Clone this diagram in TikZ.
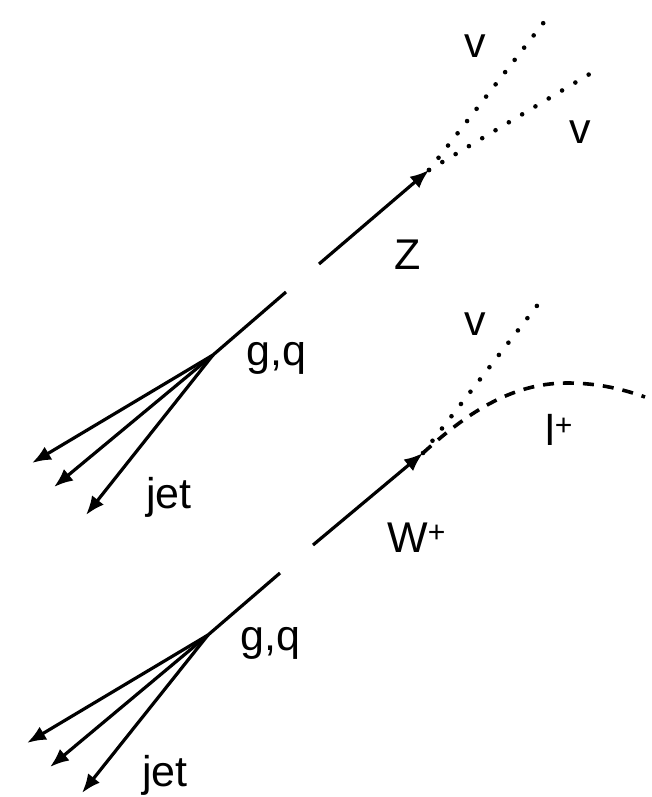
\documentclass[tikz,border=0pt]{standalone}
\usepackage{fontspec}
\setmainfont{Liberation Sans}
\usetikzlibrary{arrows.meta}
\begin{document}
\begin{tikzpicture}[x=1pt,y=-1pt,
  lbl/.style={anchor=base west,inner sep=0pt,font=\fontsize{43}{48}\selectfont},
  prop/.style={line width=3.2pt},
  arr/.style={prop,-{Latex[length=19pt,width=15pt]}},
  nuline/.style={line width=4.6pt,line cap=round,dash pattern=on 0pt off 15.5pt},
  lepline/.style={line width=3.6pt,dash pattern=on 11pt off 9pt}]
\useasboundingbox (0,0) rectangle (652,797);
% ---------- top: Z + jet ----------
\coordinate (zs) at (319,264);
\coordinate (zt) at (429,170);
\coordinate (nuA) at (548,17);
\coordinate (nuB) at (598,69);
\coordinate (js1) at (286,292);
\coordinate (jv1) at (213,355);
\coordinate (ja1) at (32,463);
\coordinate (jb1) at (54,487);
\coordinate (jc1) at (86,515);
\draw[arr] (zs) -- (zt);
\draw[nuline] (zt) -- (nuA);
\draw[nuline] (zt) -- (nuB);
\draw[prop] (js1) -- (jv1);
\draw[arr] (jv1) -- (ja1);
\draw[arr] (jv1) -- (jb1);
\draw[arr] (jv1) -- (jc1);
\node[lbl] (lz) at (394,269) {Z};
\node[lbl] (lnu1) at (464,58) {v};
\node[lbl] (lnu2) at (569,143) {v};
\node[lbl] (lgq1) at (246,365) {g,q};
\node[lbl] (ljet1) at (146,508) {jet};
% ---------- bottom: W + jet ----------
\coordinate (ws) at (313,545);
\coordinate (wt) at (423,453);
\coordinate (nuC) at (543,298);
\coordinate (lpk) at (567,383);
\coordinate (lend) at (645,397);
\coordinate (js2) at (280,573);
\coordinate (jv2) at (208,635);
\coordinate (ja2) at (27,743);
\coordinate (jb2) at (50,767);
\coordinate (jc2) at (82,793);
\draw[arr] (ws) -- (wt);
\draw[nuline] (wt) -- (nuC);
\draw[lepline] (wt) .. controls (465,415) and (510,383) .. (lpk)
  .. controls (600,383) and (625,390) .. (lend);
\draw[prop] (js2) -- (jv2);
\draw[arr] (jv2) -- (ja2);
\draw[arr] (jv2) -- (jb2);
\draw[arr] (jv2) -- (jc2);
\node[lbl] (lw) at (387,552) {W\textsuperscript{+}};
\node[lbl] (lnu3) at (464,335) {v};
\node[lbl] (ll) at (545,445) {l\textsuperscript{+}};
\node[lbl] (lgq2) at (240,650) {g,q};
\node[lbl] (ljet2) at (142,786) {jet};
\end{tikzpicture}
\end{document}
